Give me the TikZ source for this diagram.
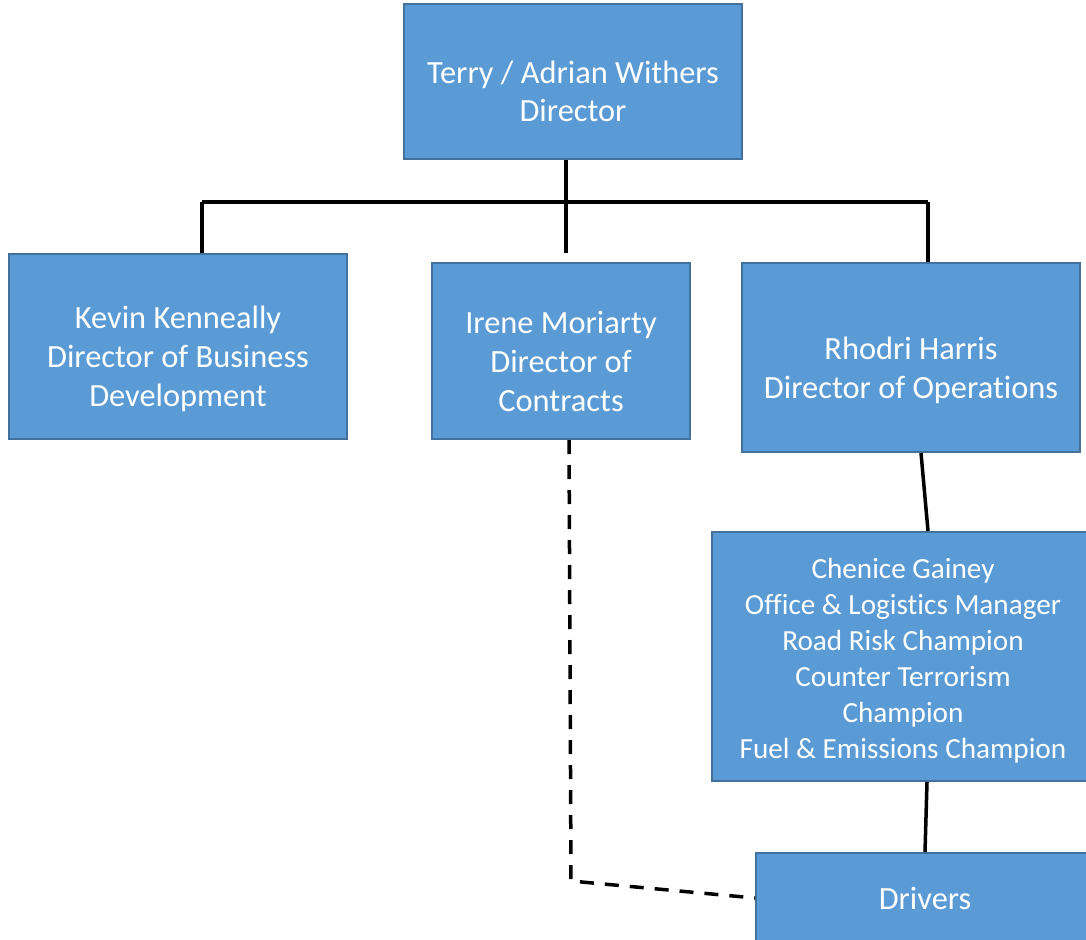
\documentclass[tikz,border=0pt]{standalone}
\usepackage{fontspec}
\setmainfont{Carlito}[Ligatures=NoCommon]
\usetikzlibrary{calc}
\definecolor{boxfill}{HTML}{5B9BD5}
\definecolor{boxline}{HTML}{41719C}
\tikzset{
  box/.style={draw=boxline, line width=2pt, fill=boxfill, inner sep=0pt},
  txt/.style={text=white, align=center, inner sep=0pt, font=\fontsize{32.4}{38.7}\selectfont},
  smalltxt/.style={text=white, align=center, inner sep=0pt, font=\fontsize{29.2}{36}\selectfont},
  conn/.style={line width=3.5pt, black},
  dconn/.style={line width=3.5pt, black, dash pattern=on 14pt off 11pt}
}
\begin{document}
\begin{tikzpicture}[x=1pt,y=-1pt]
\useasboundingbox (0,0) rectangle (1086,939);
% boxes
\node[box, minimum width=338pt, minimum height=155pt] (top) at (573,81.5) {};
\node[box, minimum width=338pt, minimum height=185pt] (kevin) at (178,346.5) {};
\node[box, minimum width=258pt, minimum height=176pt] (irene) at (561,351) {};
\node[box, minimum width=338pt, minimum height=189pt] (rhodri) at (911,357.5) {};
\node[box, minimum width=382pt, minimum height=249pt] (chen) at (903,656.5) {};
\node[box, minimum width=338pt, minimum height=90pt] (drivers) at (925,898) {};
% texts
\node[txt] (toptext) at (573,91.5) {Terry / Adrian Withers\\Director};
\node[txt] (kevintext) at (178,359) {Kevin Kenneally\\Director of Business\\Development};
\node[txt] (irenetext) at (561,361.5) {Irene Moriarty\\Director of\\Contracts};
\node[txt] (rhodritext) at (911,370.5) {Rhodri Harris\\Director of Operations};
\node[smalltxt] (chentext) at (903,661) {Chenice Gainey\\Office \& Logistics Manager\\Road Risk Champion\\Counter Terrorism\\Champion\\Fuel \& Emissions Champion};
\node[txt] (drivertext) at (925,898) {Drivers};
% connectors
\coordinate (hl) at (202,202);
\coordinate (hm) at (566,202);
\coordinate (hr) at (928,202);
\draw[conn] (hl) -- (hr);
\draw[conn] (hm |- top.south) -- (hm |- kevin.north);
\draw[conn] (hl) -- (hl |- kevin.north);
\draw[conn] (hr) -- (hr |- rhodri.north);
\draw[conn] ([xshift=10pt]rhodri.south) -- ([xshift=25pt]chen.north);
\draw[conn] ([xshift=24pt]chen.south) -- (drivers.north);
\coordinate (dc) at (571,881);
\draw[dconn] ([xshift=8pt]irene.south) -- (dc) -- (drivers.west);
\end{tikzpicture}
\end{document}
